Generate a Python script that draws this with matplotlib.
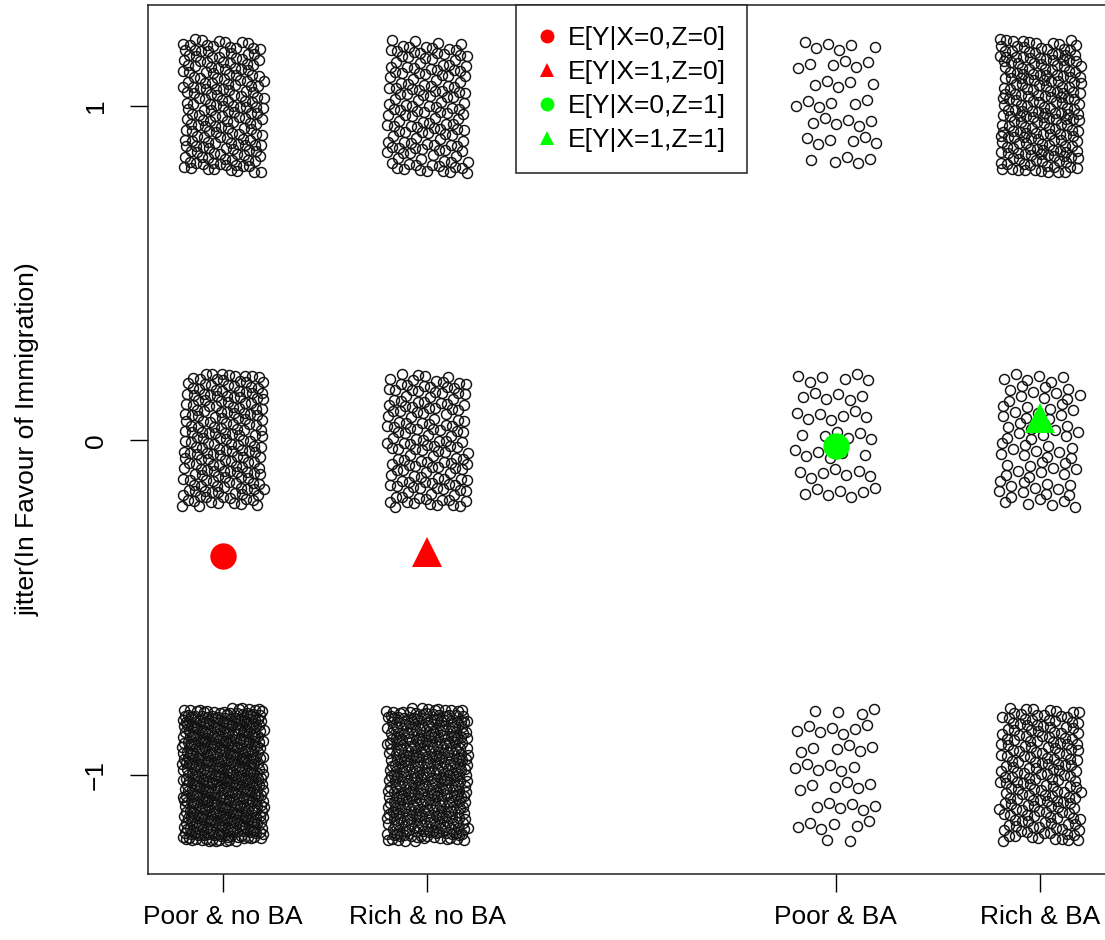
import numpy as np
import matplotlib
matplotlib.use("Agg")
import matplotlib.pyplot as plt
from matplotlib.lines import Line2D

# ===============================
# Data
# ===============================
groups = ["Poor & no BA", "Rich & no BA", "Poor & BA", "Rich & BA"]
group_pos = [1, 2, 4, 5]
levels = [1, 0, -1]

# number of respondents at each answer level (1, 0, -1) per group
counts_poor_noba = [190, 195, 480]
counts_rich_noba = [150, 150, 378]
counts_poor_ba = [40, 45, 43]
counts_rich_ba = [215, 80, 185]

# conditional means drawn as big markers
mean_labels = ["E[Y|X=0,Z=0]", "E[Y|X=1,Z=0]", "E[Y|X=0,Z=1]", "E[Y|X=1,Z=1]"]
mean_values = [-0.346, -0.334, -0.018, 0.066]
mean_colors = ["#FF0000", "#FF0000", "#00FF00", "#00FF00"]
mean_markers = ["o", "^", "o", "^"]

all_counts = [counts_poor_noba, counts_rich_noba, counts_poor_ba, counts_rich_ba]

# ===============================
# Deterministic jitter (R2 low-discrepancy sequence, +-0.2 like R's jitter())
# ===============================
A1, A2 = 0.7548776662466927, 0.5698402909980532
amount = 0.2

plt.rcParams["font.family"] = ["Liberation Sans", "DejaVu Sans"]
fig = plt.figure(figsize=(11.05, 9.40), dpi=100)
ax = fig.add_axes([148 / 1105, 66 / 940, 967 / 1105, 869 / 940])

start = 0
for pos, cnts in zip(group_pos, all_counts):
    for lev, n in zip(levels, cnts):
        idx = np.arange(start, start + n)
        u1 = (0.5 + idx * A1) % 1.0
        u2 = (0.5 + idx * A2) % 1.0
        xs = pos + (2 * u1 - 1) * amount
        ys = lev + (2 * u2 - 1) * amount
        ax.plot(xs, ys, linestyle="none", marker="o", markersize=7.2,
                markerfacecolor="none", markeredgecolor="#111111",
                markeredgewidth=1.05)
        start += n + 37

handles = []
for pos, m, c, mk, lab in zip(group_pos, mean_values, mean_colors,
                              mean_markers, mean_labels):
    ax.plot(pos, m, linestyle="none", marker=mk, markersize=19 if mk == "o" else 21,
            color=c, markeredgewidth=0)
    handles.append(Line2D([], [], linestyle="none", marker=mk, markersize=10,
                          color=c, markeredgewidth=0, label=lab))

ax.set_xlim(0.633, 5.367)
ax.set_ylim(-1.297, 1.302)

ax.set_xticks(group_pos)
ax.set_xticklabels(groups, fontsize=19)
ax.set_yticks([-1, 0, 1])
ax.set_yticklabels(["\u22121", "0", "1"], fontsize=19, rotation=90, va="center")
ax.tick_params(axis="x", length=13, width=1, pad=9)
ax.tick_params(axis="y", length=13, width=1, pad=16)
ax.set_ylabel("jitter(In Favour of Immigration)", fontsize=19, labelpad=32)

for sp in ax.spines.values():
    sp.set_linewidth(1.1)
    sp.set_color("#222222")

leg = ax.legend(handles=handles, loc="upper center", borderaxespad=0,
                fontsize=19, frameon=True, fancybox=False, framealpha=1,
                handletextpad=0.4, labelspacing=0.38, borderpad=0.8,
                handlelength=0.8)
leg.get_frame().set_edgecolor("#222222")
leg.get_frame().set_linewidth(1.1)

fig.savefig("out.png", dpi=100)
